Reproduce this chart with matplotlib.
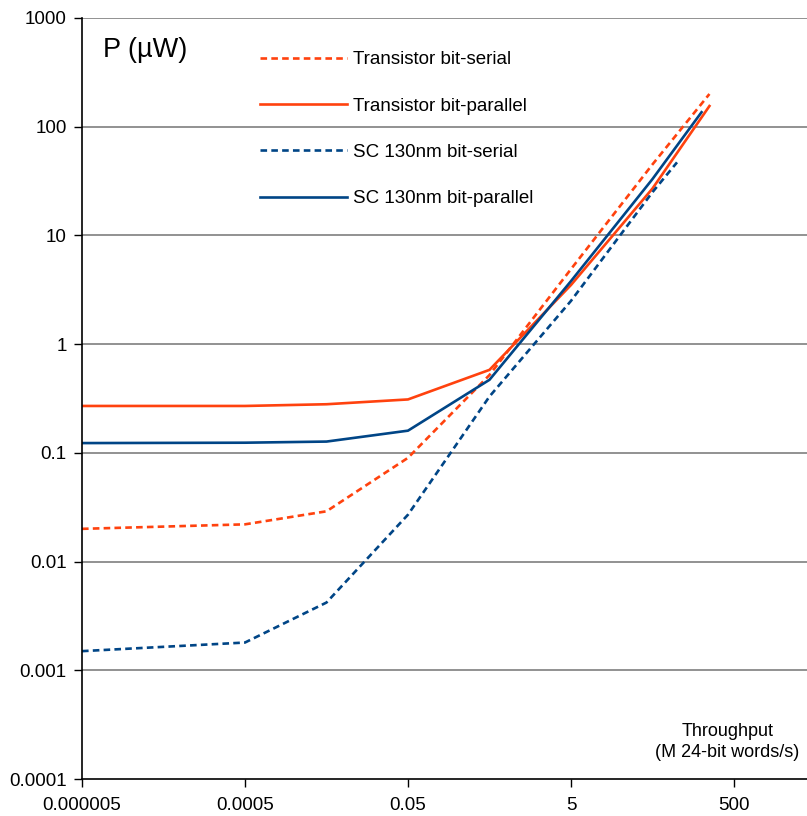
import matplotlib
matplotlib.use("Agg")
import matplotlib.pyplot as plt

plt.rcParams['font.family'] = ['Liberation Sans', 'DejaVu Sans']

# throughput (M 24-bit words/s) and power (uW) for each design
tr_serial_x = [0.000005, 0.0005, 0.005, 0.05, 0.5, 5, 50, 250]
tr_serial_y = [0.020, 0.022, 0.029, 0.09, 0.52, 4.9, 45, 200]

tr_par_x = [0.000005, 0.0005, 0.005, 0.05, 0.5, 5, 50, 250]
tr_par_y = [0.27, 0.27, 0.28, 0.31, 0.58, 3.5, 27, 155]

sc_serial_x = [0.000005, 0.0005, 0.005, 0.05, 0.5, 5, 50, 100]
sc_serial_y = [0.0015, 0.0018, 0.0042, 0.027, 0.33, 2.5, 25, 47]

sc_par_x = [0.000005, 0.0005, 0.005, 0.05, 0.5, 5, 50, 200]
sc_par_y = [0.123, 0.124, 0.127, 0.16, 0.47, 3.8, 33, 136]

xticks = [0.000005, 0.0005, 0.05, 5, 500]
xtick_labels = ['0.000005', '0.0005', '0.05', '5', '500']
yticks = [0.0001, 0.001, 0.01, 0.1, 1, 10, 100, 1000]
ytick_labels = ['0.0001', '0.001', '0.01', '0.1', '1', '10', '100', '1000']

orange = '#ff420e'
blue = '#004586'
lw = 1.9
dash = (0, (2.5, 1.6))
fs = 13.5

fig = plt.figure(figsize=(8.07, 8.16), dpi=100)
ax = fig.add_axes([82 / 807, 37 / 816, 1 - 82 / 807, (779 - 18) / 816])

ax.plot(tr_serial_x, tr_serial_y, color=orange, lw=lw, linestyle=dash, label='Transistor bit-serial')
ax.plot(tr_par_x, tr_par_y, color=orange, lw=lw, label='Transistor bit-parallel')
ax.plot(sc_serial_x, sc_serial_y, color=blue, lw=lw, linestyle=dash, label='SC 130nm bit-serial')
ax.plot(sc_par_x, sc_par_y, color=blue, lw=lw, label='SC 130nm bit-parallel')

ax.set_xscale('log')
ax.set_yscale('log')
ax.set_xlim(0.000005, 3936)
ax.set_ylim(0.0001, 1000)

ax.set_xticks(xticks)
ax.set_xticklabels(xtick_labels)
ax.set_yticks(yticks)
ax.set_yticklabels(ytick_labels)
ax.minorticks_off()
ax.tick_params(axis='both', direction='out', length=6, width=1, labelsize=fs, colors='black')
ax.tick_params(axis='x', pad=7)
ax.tick_params(axis='y', pad=5)

for v in yticks[1:]:
    ax.axhline(v, color='#7f7f7f', lw=1.2, zorder=0)

for side in ['top', 'right']:
    ax.spines[side].set_visible(False)
ax.spines['left'].set_linewidth(1.2)
ax.spines['bottom'].set_linewidth(1.2)

ax.text(0.029, 0.958, 'P (µW)', transform=ax.transAxes, fontsize=19.5, va='center', ha='left')
ax.text(0.89, 0.0486, 'Throughput\n(M 24-bit words/s)', transform=ax.transAxes,
        fontsize=13, ha='center', va='center', linespacing=1.25)

leg = ax.legend(loc='upper left', bbox_to_anchor=(0.2455, 0.9565), frameon=False,
                fontsize=fs, handlelength=4.64, handletextpad=0.32, labelspacing=1.56,
                borderaxespad=0, borderpad=0)

fig.savefig('out.png', dpi=100)
